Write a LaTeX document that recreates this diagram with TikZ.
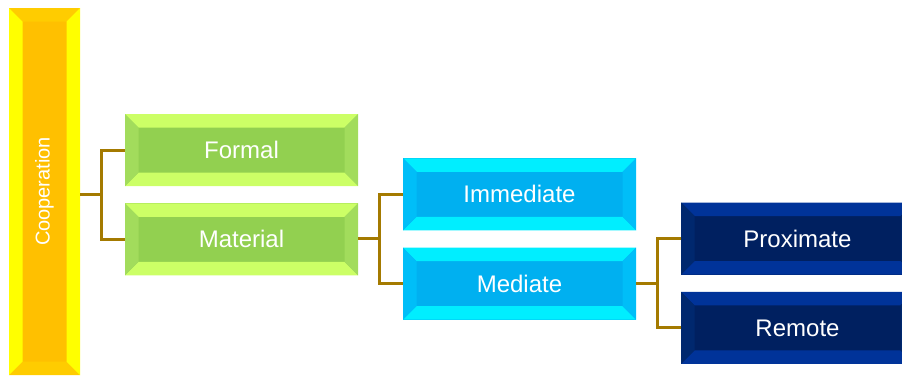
\documentclass[tikz,border=0pt]{standalone}
\usepackage{fontspec}
\setmainfont{Liberation Sans}
\usepackage{tikz}
\usetikzlibrary{positioning,calc}

\definecolor{linkbrown}{HTML}{A47A00}
\definecolor{coopmid}{HTML}{FFC000}
\definecolor{cooptop}{HTML}{FFCC00}
\definecolor{coopside}{HTML}{FFFF00}
\definecolor{greenmid}{HTML}{92D050}
\definecolor{greentop}{HTML}{CCFF66}
\definecolor{greenside}{HTML}{A2DC5C}
\definecolor{cyanmid}{HTML}{00B0F0}
\definecolor{cyantop}{HTML}{00EEFF}
\definecolor{cyanside}{HTML}{00BEF8}
\definecolor{navymid}{HTML}{002060}
\definecolor{navytop}{HTML}{003399}
\definecolor{navyside}{HTML}{00286E}

\tikzset{
	bevelbox/.style n args={3}{
		fill=#1, inner sep=0pt, text=white,
		font=\fontsize{24}{28}\selectfont,
		path picture={
			\fill[#2] (path picture bounding box.north west) -- (path picture bounding box.north east)
				-- ([shift={(-13.5pt,-13.5pt)}]path picture bounding box.north east)
				-- ([shift={(13.5pt,-13.5pt)}]path picture bounding box.north west) -- cycle;
			\fill[#2] (path picture bounding box.south west) -- (path picture bounding box.south east)
				-- ([shift={(-13.5pt,13.5pt)}]path picture bounding box.south east)
				-- ([shift={(13.5pt,13.5pt)}]path picture bounding box.south west) -- cycle;
			\fill[#3] (path picture bounding box.north west) -- (path picture bounding box.south west)
				-- ([shift={(13.5pt,13.5pt)}]path picture bounding box.south west)
				-- ([shift={(13.5pt,-13.5pt)}]path picture bounding box.north west) -- cycle;
			\fill[#3] (path picture bounding box.north east) -- (path picture bounding box.south east)
				-- ([shift={(-13.5pt,13.5pt)}]path picture bounding box.south east)
				-- ([shift={(-13.5pt,-13.5pt)}]path picture bounding box.north east) -- cycle;
		}},
	branch/.style={minimum width=233pt, minimum height=72pt},
	link/.style={draw=linkbrown, line width=3pt}
}

\begin{document}
\begin{tikzpicture}[x=1pt,y=-1pt]
		\useasboundingbox (0,0) rectangle (902,375);
		\clip (0,0) rectangle (902,375);
		%%nodes
		\node[bevelbox={coopmid}{cooptop}{coopside}, minimum width=71pt, minimum height=367pt, font=\fontsize{20}{24}\selectfont] (coop) at (44.5,191.5) {\rotatebox{90}{Cooperation}};
		\node[bevelbox={greenmid}{greentop}{greenside}, branch] (formal) at (241.5,150) {Formal};
		\node[bevelbox={greenmid}{greentop}{greenside}, branch, below=17pt of formal] (material) {Material};
		\node[bevelbox={cyanmid}{cyantop}{cyanside}, branch] (immediate) at (519.5,194.25) {Immediate};
		\node[bevelbox={cyanmid}{cyantop}{cyanside}, branch, below=17pt of immediate] (mediate) {Mediate};
		\node[bevelbox={navymid}{navytop}{navyside}, branch] (proximate) at (797.5,238.5) {Proximate};
		\node[bevelbox={navymid}{navytop}{navyside}, branch, below=17pt of proximate] (remote) {Remote};
		%%links
		\coordinate (fork1) at ($(formal.west)!0.5!(material.west)+(-23,0)$);
		\coordinate (fork2) at ($(immediate.west)!0.5!(mediate.west)+(-23,0)$);
		\coordinate (fork3) at ($(proximate.west)!0.5!(remote.west)+(-23,0)$);
		\draw[link] (coop.east |- fork1) -- (fork1);
		\draw[link] (formal.west) -| (fork1) |- (material.west);
		\draw[link] (material.east |- fork2) -- (fork2);
		\draw[link] (immediate.west) -| (fork2) |- (mediate.west);
		\draw[link] (mediate.east |- fork3) -- (fork3);
		\draw[link] (proximate.west) -| (fork3) |- (remote.west);
	\end{tikzpicture}
\end{document}
